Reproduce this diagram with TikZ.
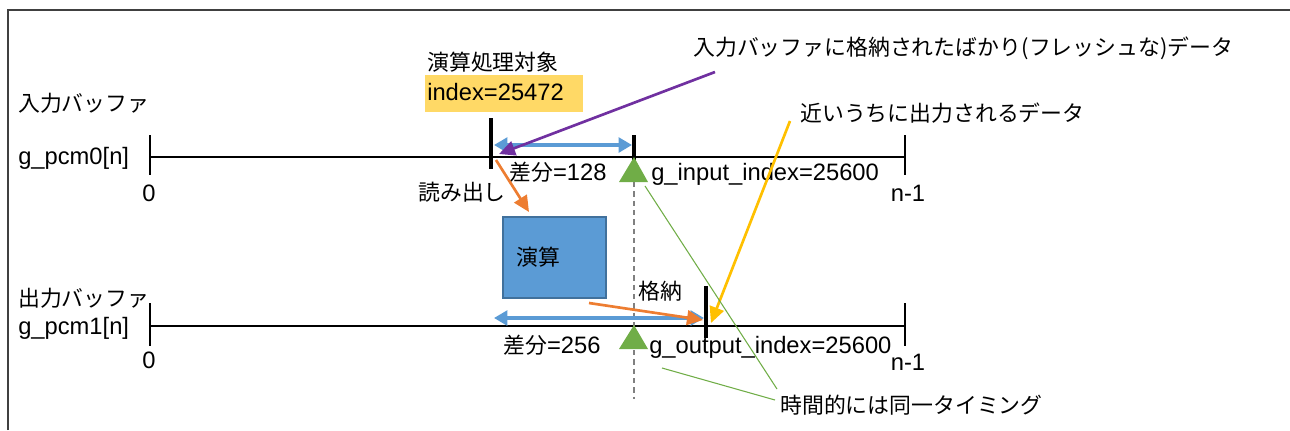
\documentclass[tikz,border=0pt]{standalone}
\usepackage{fontspec}
\setmainfont{Liberation Sans}
\newfontfamily\jp{Noto Sans CJK JP}
\usetikzlibrary{arrows.meta}
\definecolor{ablue}{HTML}{5B9BD5}
\definecolor{bborder}{HTML}{41719C}
\definecolor{apurple}{HTML}{7030A0}
\definecolor{aorange}{HTML}{ED7D31}
\definecolor{ayellow}{HTML}{FFC000}
\definecolor{ybox}{HTML}{FFD966}
\definecolor{agreen}{HTML}{70AD47}
\newcommand{\J}[1]{{\fontsize{16.4}{19}\selectfont\jp #1}}
\begin{document}
\begin{tikzpicture}[x=0.75pt,y=-0.75pt,
  font=\fontsize{17.8}{21}\selectfont,
  txt/.style={inner sep=0pt, anchor=west, text height=12pt, text depth=0pt},
  ctxt/.style={inner sep=0pt, anchor=center, text height=12pt, text depth=0pt},
  axisline/.style={line width=0.8pt, black},
  bigtick/.style={line width=2.4pt, black},
  dblarrow/.style={line width=2.6pt, ablue, {Triangle[width=11pt,length=10pt]}-{Triangle[width=11pt,length=10pt]}},
  callout/.style={line width=2pt, -{Triangle[width=11pt,length=12pt]}},
  thinline/.style={line width=0.8pt, agreen},
  marker/.style={fill=agreen, draw=none}]
\useasboundingbox (0,0) rectangle (1290,430);
% frame
\draw[line width=1.2pt, black!75] (8,430) -- (8,10) -- (1290,10);

% input buffer axis
\coordinate (in0) at (150,157);
\coordinate (in1) at (905,157);
\draw[axisline] (in0) -- (in1);
\draw[axisline] (150,135) -- (150,175);
\draw[axisline] (905,135) -- (905,175);
\node[txt] (inlabel) at (18,103) {\J{入力バッファ}};
\node[txt] (inname) at (18,156) {g\_pcm0[n]};
\node[ctxt] (inzero) at (149,193) {0};
\node[ctxt] (inend) at (908,193) {n-1};

% output buffer axis
\coordinate (out0) at (150,326);
\coordinate (out1) at (905,326);
\draw[axisline] (out0) -- (out1);
\draw[axisline] (150,303) -- (150,346);
\draw[axisline] (905,303) -- (905,346);
\node[txt] (outlabel) at (18,298) {\J{出力バッファ}};
\node[txt] (outname) at (18,326) {g\_pcm1[n]};
\node[ctxt] (outzero) at (149,360) {0};
\node[ctxt] (outend) at (908,362) {n-1};

% same timing dashed line
\coordinate (dtop) at (634,182);
\coordinate (dbot) at (634,399);
\draw[black!50, line width=0.8pt, dash pattern=on 4pt off 3pt] (dtop) -- (dbot);

% input markers
\coordinate (rdtop) at (491,118);
\coordinate (rdbot) at (491,169);
\draw[bigtick] (rdtop) -- (rdbot);
\coordinate (wrtop) at (634,135);
\coordinate (wrbot) at (634,160);
\draw[bigtick] (wrtop) -- (wrbot);
\coordinate (d1a) at (494,145);
\coordinate (d1b) at (632,145);
\draw[dblarrow] (d1a) -- (d1b);
\fill[marker] (634,157) -- (648,182) -- (619,182) -- cycle;

\fill[ybox] (425,75) rectangle (583,112);
\node[txt] (target) at (427,62) {\J{演算処理対象}};
\node[txt] (idx) at (427,92) {index=25472};
\node[txt] (diff1) at (509,172) {\J{差分}=128};
\node[txt] (inidx) at (651,172) {g\_input\_index=25600};
\node[txt] (read) at (418,192) {\J{読み出し}};

% operation box
\node[draw=bborder, line width=1.5pt, fill=ablue, minimum width=77pt, minimum height=61pt, anchor=north west, inner sep=0pt] (op) at (502,216) {};
\node[txt] (optext) at (516,257) {\J{演算}};

% output markers
\coordinate (otop) at (706,286);
\coordinate (obot) at (706,338);
\draw[bigtick] (otop) -- (obot);
\coordinate (d2a) at (494,318);
\coordinate (d2b) at (704,318);
\draw[dblarrow] (d2a) -- (d2b);
\fill[marker] (634,325) -- (648,349) -- (619,349) -- cycle;
\node[txt] (store) at (638,291) {\J{格納}};
\node[txt] (diff2) at (503,345) {\J{差分}=256};
\node[txt] (outidx) at (649,345) {g\_output\_index=25600};

% annotations
\node[txt] (fresh) at (693,47) {\J{入力バッファに格納されたばかり(フレッシュな)データ}};
\node[txt] (soon) at (800,113) {\J{近いうちに出力されるデータ}};
\node[txt] (same) at (780,405) {\J{時間的には同一タイミング}};

% arrows
\coordinate (pstart) at (715,72);
\coordinate (pend) at (499,154);
\draw[callout, apurple] (pstart) -- (pend);
\coordinate (ystart) at (790,121);
\coordinate (yend) at (711,323);
\draw[callout, ayellow] (ystart) -- (yend);
\coordinate (r1s) at (496,160);
\coordinate (r1e) at (529,212);
\draw[callout, aorange] (r1s) -- (r1e);
\coordinate (r2s) at (589,303);
\coordinate (r2e) at (703,320);
\draw[callout, aorange] (r2s) -- (r2e);

% green thin lines
\coordinate (g1s) at (645,186);
\coordinate (g1e) at (777,389);
\draw[thinline] (g1s) -- (g1e);
\coordinate (g2s) at (662,368);
\coordinate (g2e) at (775,400);
\draw[thinline] (g2s) -- (g2e);
\end{tikzpicture}
\end{document}
